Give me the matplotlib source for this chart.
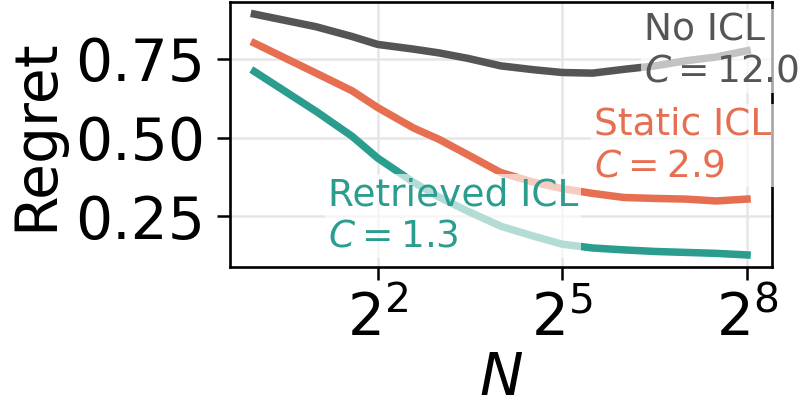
import numpy as np
import matplotlib
matplotlib.use("Agg")
import matplotlib.pyplot as plt

# context size N and regret for each method
n = [1, 2, 3, 4, 6, 8, 11, 16, 23, 32, 45, 64, 91, 128, 181, 256]
no_icl = [0.891, 0.851, 0.820, 0.795, 0.780, 0.768, 0.751, 0.727, 0.715,
          0.706, 0.704, 0.716, 0.727, 0.743, 0.755, 0.775]
static_icl = [0.799, 0.704, 0.648, 0.595, 0.530, 0.494, 0.446, 0.389, 0.359,
              0.338, 0.323, 0.310, 0.307, 0.305, 0.299, 0.305]
retrieved_icl = [0.709, 0.583, 0.504, 0.435, 0.358, 0.311, 0.267, 0.219, 0.188,
                 0.162, 0.150, 0.144, 0.139, 0.136, 0.133, 0.128]

series = [
    ("No ICL", 12.0, no_icl, "#555555", (80, 0.897)),
    ("Static ICL", 2.9, static_icl, "#e76f51", (45.8, 0.598)),
    ("Retrieved ICL", 1.3, retrieved_icl, "#2a9d8f", (2.28, 0.374)),
]

fig = plt.figure(figsize=(7.98, 4.12), dpi=100)
ax = fig.add_axes([0.288, 0.352, 0.679, 0.643])

for name, c, vals, col, (tx, ty) in series:
    ax.plot(n, vals, color=col, lw=5.4)
    ax.text(tx, ty, name + "\n" + "$C = %.1f$" % c, color=col, fontsize=27,
            va="top", ha="left",
            bbox=dict(boxstyle="square,pad=0.08", fc="white", ec="none", alpha=0.65))

ax.set_xscale("log", base=2)
ax.set_xticks([2**2, 2**5, 2**8])
ax.xaxis.set_minor_locator(matplotlib.ticker.NullLocator())
ax.set_yticks([0.25, 0.5, 0.75])
ax.grid(True, color="#e6e6e6", lw=1.8)
ax.set_axisbelow(True)

ax.set_xlabel("$N$", fontsize=42, labelpad=1)
ax.set_ylabel("Regret", fontsize=42, labelpad=8)
ax.tick_params(labelsize=42, length=9.5, width=1.8, pad=8)
for s in ax.spines.values():
    s.set_linewidth(1.9)

fig.savefig("out.png", dpi=100)
